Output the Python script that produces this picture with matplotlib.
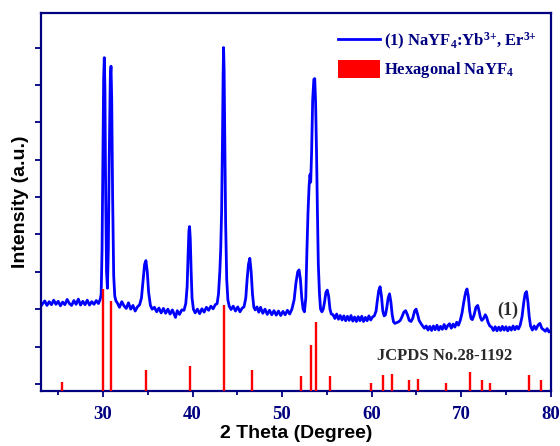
import numpy as np
import matplotlib
matplotlib.use('Agg')
import matplotlib.pyplot as plt
from matplotlib.ticker import MultipleLocator, NullFormatter

# XRD pattern of sample (1)
two_theta = [23.0, 23.25, 23.5, 23.75, 24.0, 24.25, 24.5, 24.75, 25.0, 25.25,
             25.5, 25.75, 26.0, 26.25, 26.5, 26.75, 27.0, 27.25, 27.5, 27.75,
             28.0, 28.25, 28.5, 28.75, 29.0, 29.25, 29.5, 29.7,
             29.8, 29.9, 30.0, 30.08, 30.15, 30.22, 30.3, 30.4, 30.5, 30.6,
             30.7, 30.82, 30.9, 30.98, 31.08, 31.2, 31.32, 31.45,
             31.6, 31.85, 32.1, 32.35, 32.6, 32.85, 33.1, 33.35, 33.6, 33.85,
             34.1, 34.3, 34.5, 34.65, 34.8, 34.95, 35.1, 35.3, 35.5,
             35.75, 36.0, 36.25, 36.5, 36.75, 37.0, 37.25, 37.5, 37.75, 38.0,
             38.1, 38.3, 38.55, 38.8, 39.05, 39.25, 39.4, 39.5, 39.6, 39.67,
             39.75, 39.85, 39.95, 40.1,
             40.3, 40.55, 40.8, 41.05, 41.3, 41.55, 41.8, 42.05, 42.3, 42.55,
             42.75, 42.9, 43.05, 43.15, 43.25, 43.35, 43.42, 43.47, 43.53, 43.6,
             43.7, 43.82, 43.95, 44.1,
             44.3, 44.55, 44.8, 45.05, 45.3, 45.55, 45.75, 45.95, 46.1, 46.25,
             46.4, 46.55, 46.7, 46.85, 47.0,
             47.2, 47.4, 47.6, 47.85, 48.1, 48.35, 48.6, 48.85, 49.1, 49.35,
             49.6, 49.85, 50.1, 50.35, 50.6, 50.85, 51.1, 51.35, 51.55, 51.75,
             51.9, 52.05, 52.2, 52.35, 52.5, 52.65, 52.78, 52.9, 53.02, 53.12,
             53.2, 53.3, 53.42, 53.55, 53.65, 53.75, 53.85, 53.95, 54.05, 54.18,
             54.3, 54.45, 54.6, 54.75, 54.9, 55.05, 55.2, 55.35, 55.5,
             55.7, 55.9, 56.1, 56.3, 56.5, 56.7, 56.9, 57.1, 57.3, 57.5,
             57.7, 57.9, 58.1, 58.3, 58.5, 58.7, 58.9, 59.1, 59.3, 59.5,
             59.7, 59.9, 60.1, 60.3, 60.5, 60.65, 60.8, 60.95, 61.1, 61.25,
             61.4, 61.55, 61.7, 61.85, 62.0, 62.15, 62.3, 62.45, 62.6, 62.8,
             63.0, 63.2, 63.4, 63.6, 63.8, 64.0, 64.2, 64.4, 64.6, 64.8,
             64.97, 65.15, 65.3, 65.5, 65.7, 65.9,
             66.1, 66.3, 66.5, 66.7, 66.9, 67.1, 67.3, 67.5, 67.7, 67.9,
             68.1, 68.3, 68.5, 68.7, 68.9, 69.1, 69.3, 69.5, 69.7, 69.9,
             70.1, 70.3, 70.5, 70.65, 70.8, 70.95, 71.1, 71.25, 71.45, 71.65,
             71.85, 72.0, 72.15, 72.3, 72.5, 72.7, 72.85, 73.0, 73.2, 73.4,
             73.6, 73.8, 74.0, 74.2, 74.4, 74.6, 74.8, 75.0, 75.2, 75.4,
             75.6, 75.8, 76.0, 76.2, 76.4, 76.6, 76.8, 77.0, 77.15, 77.3,
             77.45, 77.6, 77.75, 77.95, 78.15, 78.35, 78.6, 78.8, 79.0, 79.2,
             79.4, 79.6, 79.8, 80.0]
intensity = [2.06, 2.14, 2.22, 2.10, 2.20, 2.12, 2.24, 2.13, 2.21, 2.09,
             2.19, 2.12, 2.26, 2.15, 2.10, 2.23, 2.13, 2.27, 2.11, 2.21,
             2.12, 2.24, 2.11, 2.20, 2.13, 2.23, 2.15, 2.27,
             2.40, 3.60, 6.20, 8.20, 8.73, 7.90, 5.20, 3.00, 2.56, 3.60,
             6.00, 8.20, 8.50, 7.60, 5.00, 2.90, 2.35, 2.22,
             2.17, 2.05, 2.20, 2.09, 2.02, 2.17, 2.00, 2.10, 1.95, 2.06,
             2.12, 2.30, 2.80, 3.20, 3.30, 3.00, 2.45, 2.10, 2.00,
             2.05, 1.93, 2.03, 1.90, 2.02, 1.89, 2.00, 1.87, 1.98, 1.84,
             1.78, 1.96, 1.86, 1.98, 1.97, 2.15, 2.60, 3.40, 4.10, 4.21,
             3.90, 3.00, 2.30, 2.00,
             1.90, 2.00, 1.88, 2.01, 1.92, 2.05, 1.97, 2.08, 2.01, 2.12,
             2.15, 2.40, 3.00, 3.60, 4.60, 6.60, 8.30, 9.00, 8.40, 6.60,
             4.30, 2.80, 2.25, 2.08,
             1.99, 2.08, 1.95, 2.06, 1.93, 2.03, 2.06, 2.30, 2.80, 3.20,
             3.36, 3.00, 2.40, 2.05, 1.98,
             2.06, 1.92, 2.05, 1.89, 2.00, 1.86, 1.97, 1.85, 1.96, 1.84,
             1.95, 1.83, 1.94, 1.85, 1.97, 1.87, 2.00, 2.25, 2.70, 3.00,
             3.05, 2.80, 2.30, 2.00, 1.93, 2.30, 3.60, 4.60, 5.30, 5.60,
             5.40, 6.20, 7.60, 8.15, 8.17, 7.50, 6.20, 4.60, 3.20, 2.40,
             2.00, 1.93, 2.00, 2.20, 2.45, 2.51, 2.35, 2.00, 1.87,
             1.85, 1.75, 1.87, 1.73, 1.83, 1.71, 1.82, 1.69, 1.81, 1.70,
             1.83, 1.68, 1.79, 1.67, 1.80, 1.69, 1.81, 1.67, 1.78, 1.69,
             1.82, 1.71, 1.79, 1.82, 1.95, 2.25, 2.50, 2.60, 2.35, 1.95,
             1.82, 1.85, 2.05, 2.30, 2.41, 2.20, 1.85, 1.66, 1.62, 1.64,
             1.66, 1.70, 1.80, 1.92, 1.96, 1.85, 1.70, 1.67, 1.76, 1.95,
             2.00, 1.85, 1.70, 1.62, 1.55, 1.49,
             1.55, 1.44, 1.54, 1.43, 1.55, 1.45, 1.57, 1.44, 1.54, 1.46,
             1.59, 1.47, 1.56, 1.61, 1.49, 1.60, 1.52, 1.65, 1.57, 1.70,
             1.90, 2.20, 2.45, 2.54, 2.35, 1.95, 1.75, 1.72, 1.85, 2.05,
             2.10, 1.95, 1.78, 1.70, 1.75, 1.85, 1.78, 1.65, 1.55, 1.52,
             1.43, 1.53, 1.42, 1.52, 1.43, 1.54, 1.44, 1.53, 1.42, 1.52,
             1.44, 1.55, 1.45, 1.54, 1.47, 1.58, 1.80, 2.20, 2.42, 2.47,
             2.20, 1.80, 1.55, 1.44, 1.55, 1.46, 1.58, 1.62, 1.49, 1.45,
             1.41, 1.48, 1.39, 1.43]

# JCPDS No.28-1192 reference lines (hexagonal NaYF4)
ref_pos = [25.4, 30.0, 30.85, 34.8, 39.75, 43.5, 46.7, 52.1, 53.25, 53.8,
           55.3, 59.9, 61.25, 62.25, 64.2, 65.15, 68.3, 71.0, 72.3, 73.25,
           77.6, 78.9]
ref_top = [0.04, 2.54, 2.23, 0.37, 0.49, 2.10, 0.37, 0.20, 1.04, 1.65,
           0.22, 0.02, 0.24, 0.27, 0.11, 0.13, 0.02, 0.33, 0.11, 0.02,
           0.24, 0.10]

navy = '#000080'
serif = 'Liberation Serif'
sans = 'Liberation Sans'

plt.rcParams['mathtext.fontset'] = 'custom'
plt.rcParams['mathtext.rm'] = 'Liberation Serif:bold'
plt.rcParams['mathtext.bf'] = 'Liberation Serif:bold'
plt.rcParams['mathtext.it'] = 'Liberation Serif:bold'

fig = plt.figure(figsize=(5.6, 4.46), dpi=100)
ax = fig.add_axes([0.0727, 0.1233, 0.9107, 0.848])

ymin, ymax = -0.19, 9.93
ax.plot(two_theta, intensity, color='#0000ff', lw=2.0, zorder=2,
        label=r'(1) NaYF$_{4}$:Yb$^{3{+}}$, Er$^{3{+}}$')
ax.vlines(ref_pos, ymin, ref_top, color='#ff0000', lw=1.7, zorder=3)
ax.bar([0], [0], color='#ff0000', label=r'Hexagonal NaYF$_{4}$')

ax.set_xlim(23.05, 80)
ax.set_ylim(ymin, ymax)
ax.xaxis.set_major_locator(MultipleLocator(10))
ax.xaxis.set_minor_locator(MultipleLocator(5))
ax.yaxis.set_major_locator(MultipleLocator(1))
ax.yaxis.set_major_formatter(NullFormatter())

for s in ax.spines.values():
    s.set_color(navy)
    s.set_linewidth(1.6)
ax.tick_params(axis='both', which='major', direction='out', color=navy,
               width=1.3, length=4.5, labelcolor=navy)
ax.tick_params(axis='x', which='minor', direction='out', color=navy,
               width=1.3, length=3)
ax.tick_params(axis='y', length=4)
for lab in ax.get_xticklabels():
    lab.set_fontfamily(serif)
    lab.set_fontweight('bold')
    lab.set_fontsize(13.5)
ax.tick_params(axis='x', pad=6.5)

ax.set_xlabel('2 Theta (Degree)', family=sans, weight='bold', fontsize=14,
              color='black', labelpad=1)
ax.set_ylabel('Intensity (a.u.)', family=sans, weight='bold', fontsize=14,
              color='black', labelpad=1)

leg = ax.legend(loc='upper left', bbox_to_anchor=(0.583, 0.952), frameon=False,
                prop={'family': serif, 'weight': 'bold', 'size': 12},
                handlelength=2.5, handleheight=1.35, handletextpad=0.25,
                labelspacing=0.45, borderpad=0, borderaxespad=0)
for t in leg.get_texts():
    t.set_color(navy)

ax.text(75.15, 1.98, '(1)', family=serif, weight='bold', fontsize=13,
        color='#2a2a2a', ha='center', va='center')
ax.text(68.1, 0.75, 'JCPDS No.28-1192', family=serif, weight='bold',
        fontsize=12, color='#2a2a2a', ha='center', va='center')

fig.savefig('out.png', dpi=100)
